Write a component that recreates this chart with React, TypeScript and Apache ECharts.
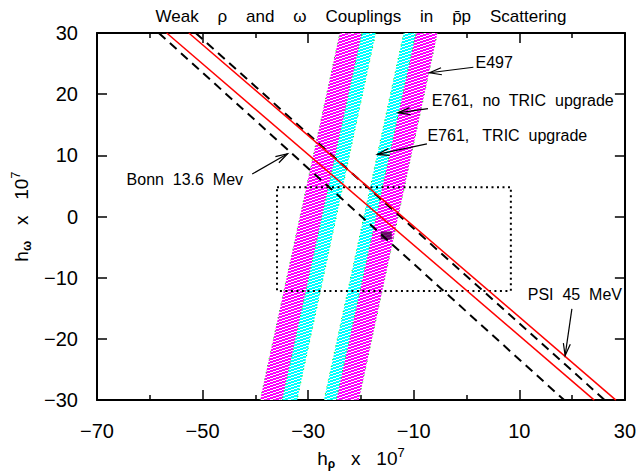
import React, { useEffect, useRef } from 'react';
import * as echarts from 'echarts';

// ---- axes ----
const xMin = -70, xMax = 30, xLabelStep = 20;
const yMin = -30, yMax = 30, yLabelStep = 10;

// ---- hatched bands (corner points in data coords) ----
const e497Bands: number[][][] = [
  [[-24.0, 30], [-19.8, 30], [-34.9, -30], [-39.1, -30]],
  [[-9.6, 30], [-5.5, 30], [-20.4, -30], [-24.7, -30]],
];
const e761Bands: number[][][] = [
  [[-19.8, 30], [-17.2, 30], [-32.1, -30], [-34.9, -30]],
  [[-11.9, 30], [-9.6, 30], [-24.7, -30], [-27.0, -30]],
];

// ---- constraint lines ----
const bonnLines: number[][][] = [
  [[-58.3, 30], [18.5, -30]],
  [[-51.3, 30], [26.2, -30]],
];
const psiLines: number[][][] = [
  [[-56.8, 30], [24.2, -30]],
  [[-52.6, 30], [28.3, -30]],
];

// ---- dotted box and central point ----
const boxCorners: number[][] = [[-35.9, 4.8], [8.4, 4.8], [8.4, -12.15], [-35.9, -12.15], [-35.9, 4.8]];
const centralPoint: number[][] = [[-15.2, -3.1]];

// ---- annotations ----
const labelTexts = ['E497', 'E761,  no  TRIC  upgrade', 'E761,   TRIC  upgrade', 'Bonn  13.6  Mev', 'PSI  45  MeV'];
const labelAnchors: number[][] = [[1.7, 25.1], [-6.6, 18.9], [-7.4, 13.3], [-64.4, 6.05], [11.6, -12.8]];
const arrowTails: number[][] = [[1.3, 24.4], [-7.3, 17.65], [-7.5, 11.87], [-40.6, 6.95], [19.96, -15.08]];
const arrowHeads: number[][] = [[-7.0, 23.5], [-12.96, 16.96], [-16.9, 10.15], [-33.9, 10.27], [18.68, -22.72]];

const FONT = '"Liberation Sans", Arial, Helvetica, sans-serif';

function makeHatch(color: string): string {
  const w = 9, h = 3;
  const c = document.createElement('canvas');
  c.width = w; c.height = h;
  const ctx = c.getContext('2d')!;
  ctx.fillStyle = color;
  ctx.fillRect(0, 0, w, h);
  ctx.fillStyle = '#ffffff';
  for (let x = 0; x < w; x++) {
    for (let y = 0; y < h; y++) {
      if ((3 * y + x) % 9 < 3) ctx.fillRect(x, y, 1, 1);
    }
  }
  return c.toDataURL();
}

const fmt = (v: number) => (v < 0 ? '\u2212' + Math.abs(v) : String(v));

export default function App() {
  const ref = useRef<HTMLDivElement>(null);
  useEffect(() => {
    if (!ref.current) return;
    const chart = echarts.init(ref.current, undefined, { renderer: 'svg' });
    const magenta = { image: makeHatch('#ff00ff'), repeat: 'repeat', imageWidth: 9, imageHeight: 3 } as any;
    const cyan = { image: makeHatch('#00ffff'), repeat: 'repeat', imageWidth: 9, imageHeight: 3 } as any;

    const bandSeries = (polys: number[][][], fill: any) => ({
      type: 'custom',
      coordinateSystem: 'cartesian2d',
      xAxisIndex: 0,
      yAxisIndex: 0,
      clip: true,
      silent: true,
      z: 1,
      data: polys.map((p) => p[0]),
      renderItem: (params: any, api: any) => {
        const pts = polys[params.dataIndex].map((p) => api.coord(p));
        return {
          type: 'polygon',
          shape: { points: pts },
          style: { fill, stroke: '#00ee00', lineWidth: 1, lineDash: [1, 6] },
        };
      },
    });

    const lineSeries = (pts: number[][], color: string, dashed: boolean) => ({
      type: 'line',
      xAxisIndex: 0,
      yAxisIndex: 0,
      data: pts,
      symbol: 'none',
      silent: true,
      z: 3,
      lineStyle: { color, width: dashed ? 2 : 1.5, type: dashed ? [9, 6] : 'solid' },
    });

    const xAxisBase = {
      type: 'value',
      min: xMin,
      max: xMax,
      interval: xLabelStep,
      splitLine: { show: false },
      axisLine: { onZero: false, lineStyle: { color: '#000', width: 2 } },
      axisTick: { inside: true, length: 10, lineStyle: { color: '#000', width: 1.5 } },
      minorTick: { show: true, splitNumber: 2, length: 5, lineStyle: { color: '#000', width: 1.5 } },
      minorSplitLine: { show: false },
    };
    const yAxisBase = {
      type: 'value',
      min: yMin,
      max: yMax,
      interval: yLabelStep,
      splitLine: { show: false },
      axisLine: { onZero: false, lineStyle: { color: '#000', width: 2 } },
      axisTick: { inside: true, length: 10, lineStyle: { color: '#000', width: 1.5 } },
    };
    const nameRich = {
      n: { fontSize: 19, fontFamily: FONT, color: '#000' },
      sub: { fontSize: 12, fontFamily: FONT, color: '#000', fontWeight: 'bold', padding: [12, 0, 0, 0] },
      sup: { fontSize: 13, fontFamily: FONT, color: '#000', padding: [0, 0, 11, 0] },
    };

    chart.setOption({
      animation: false,
      backgroundColor: '#ffffff',
      title: {
        text: 'Weak    \u03c1    and    \u03c9    Couplings    in    p\u0304p    Scattering',
        left: 361,
        top: 8,
        textAlign: 'center',
        padding: 0,
        textStyle: { fontSize: 17, fontWeight: 'normal', color: '#000', fontFamily: FONT },
      },
      grid: { left: 97, right: 12, top: 33, bottom: 68, containLabel: false },
      xAxis: [
        {
          ...xAxisBase,
          position: 'bottom',
          axisLabel: { formatter: fmt, fontSize: 20, color: '#000', margin: 21, fontFamily: FONT },
          name: '{n|h}{sub|\u03c1}{n|   x   10}{sup|7}',
          nameLocation: 'middle',
          nameGap: 34,
          nameTextStyle: { rich: nameRich },
        },
        {
          ...xAxisBase,
          position: 'top',
          axisLabel: { show: false },
        },
      ],
      yAxis: [
        {
          ...yAxisBase,
          position: 'left',
          axisLabel: { formatter: fmt, fontSize: 20, color: '#000', margin: 19, fontFamily: FONT },
          name: '{n|h}{sub|\u03c9}{n|   x   10}{sup|7}',
          nameLocation: 'middle',
          nameGap: 58,
          nameRotate: 90,
          nameTextStyle: { rich: nameRich },
        },
        {
          ...yAxisBase,
          position: 'right',
          axisLabel: { show: false },
        },
      ],
      series: [
        bandSeries(e497Bands, magenta),
        bandSeries(e761Bands, cyan),
        {
          type: 'scatter',
          xAxisIndex: 0,
          yAxisIndex: 0,
          data: centralPoint,
          symbol: 'rect',
          symbolSize: [11, 8],
          silent: true,
          z: 2,
          itemStyle: { color: '#4a004a' },
        },
        {
          type: 'line',
          xAxisIndex: 0,
          yAxisIndex: 0,
          data: boxCorners,
          symbol: 'none',
          silent: true,
          z: 3,
          lineStyle: { color: '#000', width: 2, type: [2, 3.5] },
        },
        ...bonnLines.map((l) => lineSeries(l, '#000', true)),
        ...psiLines.map((l) => lineSeries(l, '#ff0000', false)),
        {
          type: 'custom',
          coordinateSystem: 'cartesian2d',
          xAxisIndex: 0,
          yAxisIndex: 0,
          silent: true,
          z: 5,
          data: arrowTails,
          renderItem: (params: any, api: any) => {
            const i = params.dataIndex;
            const p1 = api.coord(arrowTails[i]);
            const p2 = api.coord(arrowHeads[i]);
            const t = api.coord(labelAnchors[i]);
            const dx = p2[0] - p1[0], dy = p2[1] - p1[1];
            const len = Math.sqrt(dx * dx + dy * dy);
            const ux = dx / len, uy = dy / len;
            const L = 12, W = 3.5;
            const h1 = [p2[0] - ux * L - uy * W, p2[1] - uy * L + ux * W];
            const h2 = [p2[0] - ux * L + uy * W, p2[1] - uy * L - ux * W];
            return {
              type: 'group',
              children: [
                { type: 'line', shape: { x1: p1[0], y1: p1[1], x2: p2[0], y2: p2[1] }, style: { stroke: '#000', lineWidth: 1.2 } },
                { type: 'polyline', shape: { points: [h1, p2, h2] }, style: { stroke: '#000', lineWidth: 1.2, fill: 'none' } },
                {
                  type: 'text',
                  x: t[0],
                  y: t[1],
                  style: { text: labelTexts[i], fill: '#000', font: '16px ' + FONT, textAlign: 'left', verticalAlign: 'middle' },
                },
              ],
            };
          },
        },
      ],
    } as any);
    return () => chart.dispose();
  }, []);
  return <div ref={ref} style={{ position: 'fixed', left: 0, top: 0, width: 639, height: 475, background: '#fff' }} />;
}
